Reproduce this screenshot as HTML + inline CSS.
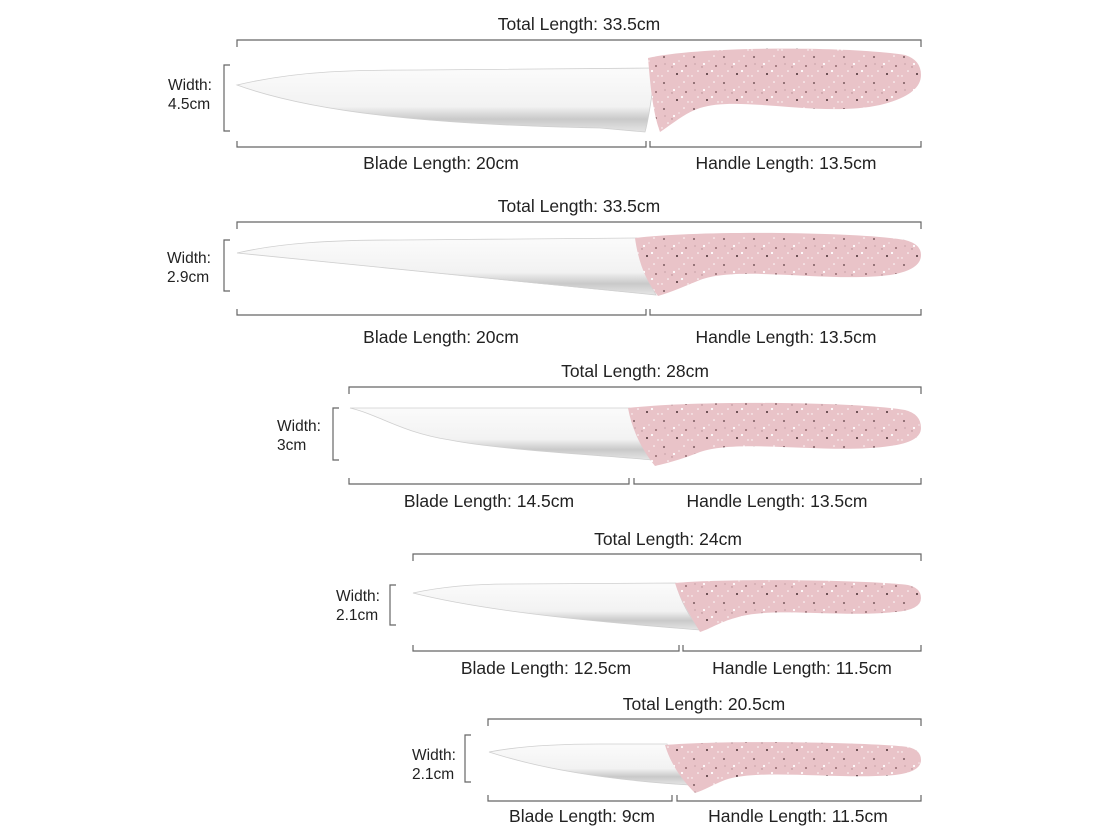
<!DOCTYPE html>
<html><head><meta charset="utf-8"><style>
html,body{margin:0;padding:0;background:#fff;}
svg{display:block;}
text{font-family:"Liberation Sans",sans-serif;font-size:17.5px;fill:#222;}
.w{font-size:15.5px;}
.br{stroke:#666;stroke-width:1.2;fill:none;}
.h{fill:url(#sp);}
.b{fill:url(#bl);stroke:#cfcfcf;stroke-width:0.8;}
</style></head><body>
<svg width="1120" height="840" viewBox="0 0 1120 840" xmlns="http://www.w3.org/2000/svg">
<defs>
<pattern id="sp" width="30" height="26" patternUnits="userSpaceOnUse">
<rect width="30" height="26" fill="#e9c3c8"/>
<circle cx="4" cy="5" r="0.9" fill="#5a3b40"/><circle cx="14" cy="12" r="1.1" fill="#fff"/>
<circle cx="24" cy="4" r="0.8" fill="#fff"/><circle cx="26" cy="14" r="0.9" fill="#7a5055"/>
<circle cx="8" cy="19" r="0.8" fill="#fff"/><circle cx="17" cy="22" r="1" fill="#4a2f33"/>
<circle cx="22" cy="19" r="1.1" fill="#fff"/><circle cx="28" cy="24" r="0.7" fill="#fff"/>
<circle cx="12" cy="15" r="0.7" fill="#b08a90"/><circle cx="19" cy="9" r="0.6" fill="#fff"/>
<circle cx="2" cy="24" r="0.7" fill="#fff"/><circle cx="5" cy="12" r="0.6" fill="#b08a90"/>
</pattern>
<linearGradient id="bl" x1="0" y1="0" x2="0" y2="1">
<stop offset="0" stop-color="#fbfbfb"/><stop offset="0.6" stop-color="#f2f2f2"/><stop offset="0.8" stop-color="#c9c9c9"/><stop offset="1" stop-color="#e6e6e6"/>
</linearGradient>
</defs>

<!-- Knife 1 -->
<text x="579" y="30" text-anchor="middle">Total Length: 33.5cm</text>
<path class="br" d="M237,47 V40 H921 V47"/>
<path class="br" d="M230,65 H224 V131 H230"/>
<text class="w" x="168" y="90">Width:</text><text class="w" x="168" y="109">4.5cm</text>
<path class="b" d="M237,85 C300,70 360,70 420,70 L656,68 C652,90 650,115 645,132 L600,128 C450,125 320,115 237,85 Z"/>
<path class="h" d="M648,58 C700,46 850,46 905,55 Q921,60 921,75 Q921,95 880,105 C820,118 740,95 700,108 C685,113 675,122 660,132 C652,110 650,80 648,58 Z"/>
<path class="br" d="M237,141 V147 H646 V141 M650,141 V147 H921 V141"/>
<text x="441" y="169" text-anchor="middle">Blade Length: 20cm</text>
<text x="786" y="169" text-anchor="middle">Handle Length: 13.5cm</text>

<!-- Knife 2 -->
<text x="579" y="212" text-anchor="middle">Total Length: 33.5cm</text>
<path class="br" d="M237,229 V222 H921 V229"/>
<path class="br" d="M230,240 H224 V291 H230"/>
<text class="w" x="167" y="263">Width:</text><text class="w" x="167" y="282">2.9cm</text>
<path class="b" d="M237,253 C280,243 330,240 400,240 L637,238 C640,260 648,280 656,295 C600,290 450,275 237,253 Z"/>
<path class="h" d="M635,238 C700,230 860,232 905,240 Q921,244 921,255 Q921,270 890,275 C830,283 740,265 700,280 C685,286 672,292 658,296 C645,280 638,260 635,238 Z"/>
<path class="br" d="M237,309 V315 H646 V309 M650,309 V315 H921 V309"/>
<text x="441" y="343" text-anchor="middle">Blade Length: 20cm</text>
<text x="786" y="343" text-anchor="middle">Handle Length: 13.5cm</text>

<!-- Knife 3 -->
<text x="635" y="377" text-anchor="middle">Total Length: 28cm</text>
<path class="br" d="M349,394 V387 H921 V394"/>
<path class="br" d="M339,408 H333 V460 H339"/>
<text class="w" x="277" y="431">Width:</text><text class="w" x="277" y="450">3cm</text>
<path class="b" d="M350,408 L630,408 C635,430 642,448 652,460 C600,455 500,450 450,440 C400,432 380,415 350,408 Z"/>
<path class="h" d="M628,408 C700,400 860,402 905,410 Q921,414 921,428 Q921,442 890,446 C830,455 740,438 700,452 C685,458 672,462 655,466 C642,450 632,430 628,408 Z"/>
<path class="br" d="M349,478 V484 H629 V478 M634,478 V484 H921 V478"/>
<text x="489" y="507" text-anchor="middle">Blade Length: 14.5cm</text>
<text x="777" y="507" text-anchor="middle">Handle Length: 13.5cm</text>

<!-- Knife 4 -->
<text x="668" y="545" text-anchor="middle">Total Length: 24cm</text>
<path class="br" d="M413,561 V554 H921 V561"/>
<path class="br" d="M396,585 H390 V625 H396"/>
<text class="w" x="336" y="601">Width:</text><text class="w" x="336" y="620">2.1cm</text>
<path class="b" d="M413,593 C440,587 470,584 510,584 L676,583 C680,600 690,618 700,630 C640,625 500,615 413,593 Z"/>
<path class="h" d="M675,583 C730,578 870,580 908,585 Q921,588 921,598 Q921,610 895,612 C840,618 770,606 735,618 C720,622 712,628 700,632 C690,615 680,600 675,583 Z"/>
<path class="br" d="M413,645 V651 H679 V645 M683,645 V651 H921 V645"/>
<text x="546" y="674" text-anchor="middle">Blade Length: 12.5cm</text>
<text x="802" y="674" text-anchor="middle">Handle Length: 11.5cm</text>

<!-- Knife 5 -->
<text x="704" y="710" text-anchor="middle">Total Length: 20.5cm</text>
<path class="br" d="M488,726 V719 H921 V726"/>
<path class="br" d="M471,735 H465 V782 H471"/>
<text class="w" x="412" y="760">Width:</text><text class="w" x="412" y="779">2.1cm</text>
<path class="b" d="M489,752 C520,746 560,744 600,744 L667,744 C672,760 680,775 690,785 C640,782 560,775 489,752 Z"/>
<path class="h" d="M665,745 C720,740 870,742 908,747 Q921,750 921,760 Q921,772 895,775 C840,780 760,768 725,780 C712,785 705,790 695,793 C680,778 670,762 665,745 Z"/>
<path class="br" d="M488,795 V801 H672 V795 M677,795 V801 H921 V795"/>
<text x="582" y="822" text-anchor="middle">Blade Length: 9cm</text>
<text x="798" y="822" text-anchor="middle">Handle Length: 11.5cm</text>
</svg>
</body></html>
